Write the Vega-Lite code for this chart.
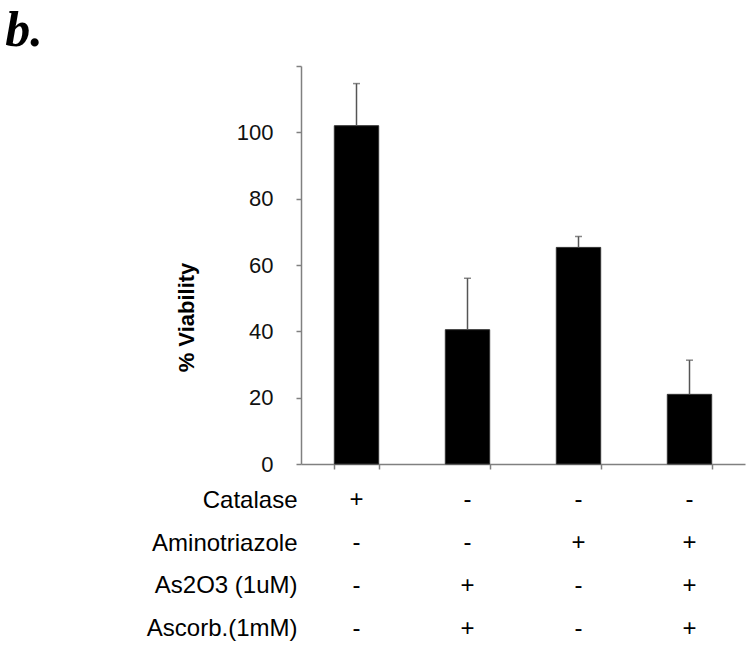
{
  "$schema": "https://vega.github.io/schema/vega-lite/v6.json",
  "padding": {"left": 5, "top": 6, "right": 5, "bottom": 5},
  "title": {"text": "b.", "font": "Liberation Serif", "fontSize": 50, "fontStyle": "italic", "fontWeight": "bold", "anchor": "start", "dx": -141, "offset": 9, "color": "#000"},
  "config": {"view": {"stroke": null}, "font": "Liberation Sans"},
  "datasets": {
    "bars": [
      {"cond": "c1", "viability": 102, "upper": 114.7},
      {"cond": "c2", "viability": 40.5, "upper": 56},
      {"cond": "c3", "viability": 65.3, "upper": 68.6},
      {"cond": "c4", "viability": 21, "upper": 31.3}
    ],
    "table": [
      {"treatment": "Catalase", "cond": "c1", "sign": "+"},
      {"treatment": "Catalase", "cond": "c2", "sign": "-"},
      {"treatment": "Catalase", "cond": "c3", "sign": "-"},
      {"treatment": "Catalase", "cond": "c4", "sign": "-"},
      {"treatment": "Aminotriazole", "cond": "c1", "sign": "-"},
      {"treatment": "Aminotriazole", "cond": "c2", "sign": "-"},
      {"treatment": "Aminotriazole", "cond": "c3", "sign": "+"},
      {"treatment": "Aminotriazole", "cond": "c4", "sign": "+"},
      {"treatment": "As2O3 (1uM)", "cond": "c1", "sign": "-"},
      {"treatment": "As2O3 (1uM)", "cond": "c2", "sign": "+"},
      {"treatment": "As2O3 (1uM)", "cond": "c3", "sign": "-"},
      {"treatment": "As2O3 (1uM)", "cond": "c4", "sign": "+"},
      {"treatment": "Ascorb.(1mM)", "cond": "c1", "sign": "-"},
      {"treatment": "Ascorb.(1mM)", "cond": "c2", "sign": "+"},
      {"treatment": "Ascorb.(1mM)", "cond": "c3", "sign": "-"},
      {"treatment": "Ascorb.(1mM)", "cond": "c4", "sign": "+"}
    ]
  },
  "spacing": 4,
  "vconcat": [
    {
      "width": 444,
      "height": 398,
      "data": {"name": "bars"},
      "encoding": {
        "x": {
          "field": "cond", "type": "nominal", "sort": null,
          "scale": {"paddingInner": 0.6, "paddingOuter": 0.3},
          "axis": {"title": null, "labels": false, "tickBand": "extent", "domainColor": "#808080", "domainWidth": 1.5, "tickColor": "#808080", "tickWidth": 1.5, "tickSize": 5}
        }
      },
      "layer": [
        {
          "mark": {"type": "bar", "color": "#000", "stroke": "#333", "strokeWidth": 1},
          "encoding": {
            "y": {
              "field": "viability", "type": "quantitative",
              "scale": {"domain": [0, 120], "nice": false},
              "axis": {
                "title": "% Viability", "titleFontSize": 22, "titleFontWeight": "bold", "titleColor": "#000", "titlePadding": 38, "titleY": 251,
                "values": [0, 20, 40, 60, 80, 100, 120],
                "labelExpr": "datum.value == 120 ? '' : datum.label",
                "labelFontSize": 22, "labelColor": "#111", "labelPadding": 23,
                "grid": false, "domainColor": "#808080", "domainWidth": 1.5, "tickColor": "#808080", "tickWidth": 1.5, "tickSize": 5
              }
            }
          }
        },
        {
          "mark": {"type": "rule", "color": "#555", "strokeWidth": 1.5},
          "encoding": {"y": {"field": "viability", "type": "quantitative"}, "y2": {"field": "upper"}}
        },
        {
          "mark": {"type": "tick", "color": "#555", "thickness": 1.5, "size": 7, "orient": "horizontal"},
          "encoding": {"y": {"field": "upper", "type": "quantitative"}}
        }
      ]
    },
    {
      "width": 444,
      "height": 171,
      "data": {"name": "table"},
      "mark": {"type": "text", "fontSize": 24, "color": "#000"},
      "encoding": {
        "x": {"field": "cond", "type": "nominal", "sort": null, "scale": {"paddingInner": 0.6, "paddingOuter": 0.3}, "axis": null},
        "y": {
          "field": "treatment", "type": "nominal",
          "sort": ["Catalase", "Aminotriazole", "As2O3 (1uM)", "Ascorb.(1mM)"],
          "scale": {"paddingInner": 0, "paddingOuter": 0},
          "axis": {"title": null, "domain": false, "ticks": false, "labelFontSize": 24, "labelColor": "#000", "labelPadding": 4}
        },
        "text": {"field": "sign"}
      }
    }
  ]
}
